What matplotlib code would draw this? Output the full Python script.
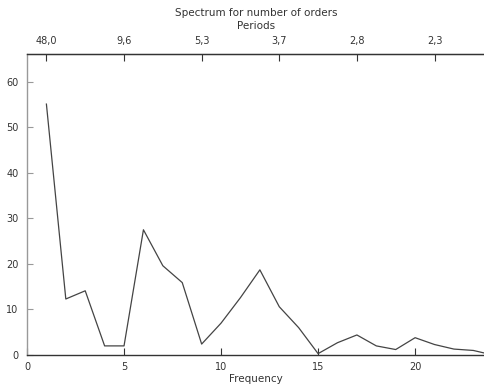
import matplotlib
matplotlib.use("Agg")
import matplotlib.pyplot as plt

# spectrum values
freq = list(range(1, 25))
amplitude = [55.1, 12.3, 14.1, 2.0, 2.0, 27.5, 19.6, 15.9, 2.4, 7.0,
             12.6, 18.7, 10.6, 6.0, 0.3, 2.7, 4.4, 2.0, 1.2, 3.8,
             2.3, 1.3, 1.0, 0.0]
n_obs = 48
period_ticks = [1, 5, 9, 13, 17, 21]
x_ticks = [0, 5, 10, 15, 20]
y_ticks = [0, 10, 20, 30, 40, 50, 60]

TXT = "#333333"
plt.rcParams["font.family"] = ["DejaVu Sans"]
plt.rcParams["font.size"] = 7

fig = plt.figure(figsize=(4.84, 3.85), dpi=100)
ax = fig.add_axes([27 / 484, 1 - 355 / 385, 1 - 27 / 484, (355 - 54) / 385])

ax.plot(freq, amplitude, color="#444444", lw=0.9)
ax.set_xlim(0, 23.55)
ax.set_ylim(0, 66.1)
ax.set_xticks(x_ticks)
ax.set_yticks(y_ticks)
ax.set_xlabel("Frequency", color=TXT, fontsize=7.5, labelpad=1.5)

ax.spines["right"].set_visible(False)
ax.spines["left"].set_color("#999999")
ax.spines["bottom"].set_color("#333333")
ax.spines["top"].set_color("#333333")
for s in ("left", "bottom", "top"):
    ax.spines[s].set_linewidth(1.0)
ax.tick_params(axis="x", direction="in", length=5, colors="#333333",
               labelcolor=TXT, pad=5)
ax.tick_params(axis="y", direction="in", length=4, colors="#999999",
               labelcolor=TXT, pad=6)

# top axis with periods
top = ax.secondary_xaxis("top")
top.set_xticks(period_ticks)
top.set_xticklabels([f"{n_obs / f:.1f}".replace(".", ",") for f in period_ticks])
top.tick_params(direction="in", length=5, colors="#333333", labelcolor=TXT, pad=6)
top.spines["top"].set_color("#333333")

fig.text(256 / 484, 1 - 13 / 385, "Spectrum for number of orders",
         ha="center", va="center", color=TXT, fontsize=7.5)
fig.text(256 / 484, 1 - 26 / 385, "Periods",
         ha="center", va="center", color=TXT, fontsize=7.5)

fig.savefig("out.png", dpi=100)
